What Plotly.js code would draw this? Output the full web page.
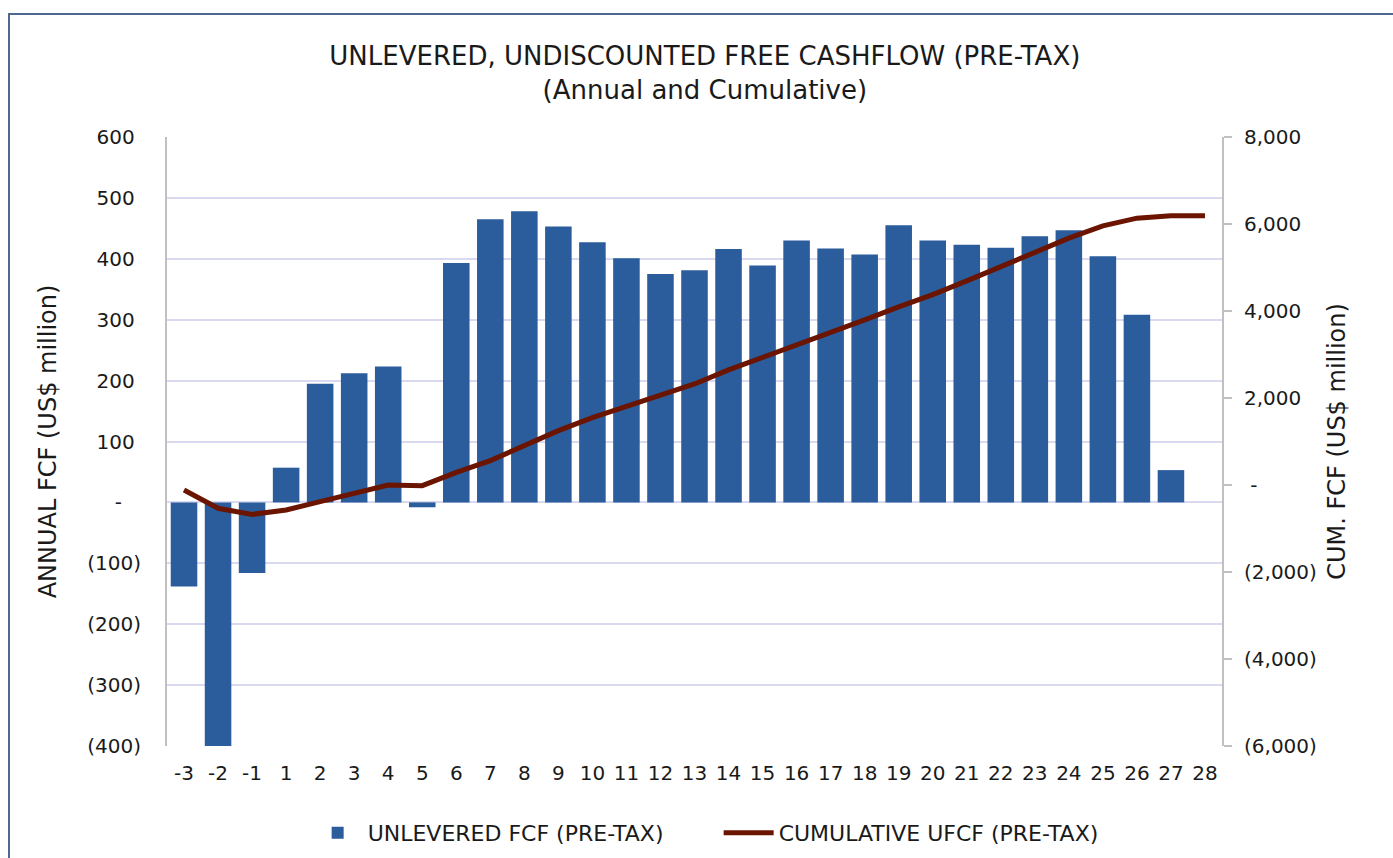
<!DOCTYPE html>
<html>
<head>
<meta charset="utf-8">
<script src="https://cdn.plot.ly/plotly-3.0.1.min.js"></script>
<style>
  html, body { margin: 0; padding: 0; background: #fff; overflow: hidden; }
  #chart { position: absolute; left: 0; top: 0; width: 1393px; height: 858px; }
  #frame { position: absolute; left: 8px; top: 13px; width: 1400px; height: 900px;
           border: 2px solid #4f6890; pointer-events: none; box-sizing: border-box; }
</style>
</head>
<body>
<div id="chart"></div>
<div id="frame"></div>
<script>
// Category labels (project years)
const years = ['-3','-2','-1','1','2','3','4','5','6','7','8','9','10','11','12','13','14',
               '15','16','17','18','19','20','21','22','23','24','25','26','27','28'];

// Annual unlevered FCF (pre-tax), US$ million (left axis)
const annualFCF = [-138,-402,-116,57,195,212,223,-8,393,465,478,453,427,401,375,381,416,
                   389,430,417,407,455,430,423,418,437,447,404,308,53,null];

// Cumulative UFCF (pre-tax), US$ million (right axis)
const cumulativeUFCF = [-115,-536,-675,-575,-383,-177,0,-15,290,560,905,1250,1550,1810,2070,
                        2323,2645,2928,3213,3503,3795,4094,4377,4692,5014,5329,5674,5957,
                        6134,6187,6190];

// Axis tick labels
const leftTickVals = [600,500,400,300,200,100,0,-100,-200,-300,-400];
const leftTickText = ['600\u00a0','500\u00a0','400\u00a0','300\u00a0','200\u00a0','100\u00a0',
                      '-\u00a0\u00a0\u00a0','(100)','(200)','(300)','(400)'];
const rightTickVals = [8000,6000,4000,2000,0,-2000,-4000,-6000];
const rightTickText = ['8,000','6,000','4,000','2,000','\u00a0-','(2,000)','(4,000)','(6,000)'];

const FONT = 'DejaVu Sans, sans-serif';
const TXT = '#1a1a1a';

const traces = [
  {
    type: 'bar',
    x: years,
    y: annualFCF,
    name: 'UNLEVERED FCF (PRE-TAX)',
    marker: { color: '#2b5c9b', line: { width: 0 } },
    yaxis: 'y',
    hoverinfo: 'x+y'
  },
  {
    type: 'scatter',
    mode: 'lines',
    x: years,
    y: cumulativeUFCF,
    name: 'CUMULATIVE UFCF (PRE-TAX)',
    line: { color: '#6b1400', width: 5 },
    yaxis: 'y2',
    hoverinfo: 'x+y'
  }
];

const layout = {
  width: 1393,
  height: 858,
  paper_bgcolor: '#ffffff',
  plot_bgcolor: '#ffffff',
  margin: { l: 167, r: 171, t: 137, b: 112 },
  font: { family: FONT, color: TXT, size: 20 },
  title: {
    text: 'UNLEVERED, UNDISCOUNTED FREE CASHFLOW (PRE-TAX)<br>(Annual and Cumulative)',
    font: { family: FONT, size: 26, color: TXT },
    xref: 'container', x: 0.506, xanchor: 'center',
    yref: 'container', y: 1 - 65/858, yanchor: 'top'
  },
  bargap: 0.22,
  showlegend: true,
  legend: {
    orientation: 'h',
    xref: 'container', x: 0.5159, xanchor: 'center',
    yref: 'container', y: 1 - 812/858, yanchor: 'top',
    font: { family: FONT, size: 22, color: TXT },
    traceorder: 'normal',
    itemwidth: 50,
    entrywidth: 346,
    entrywidthmode: 'pixels'
  },
  xaxis: {
    type: 'category',
    showgrid: false,
    showline: false,
    zeroline: false,
    ticks: '',
    tickfont: { family: FONT, size: 20, color: TXT },
    ticklabelstandoff: 13
  },
  yaxis: {
    range: [-400, 600],
    tickvals: leftTickVals,
    ticktext: leftTickText,
    showgrid: true,
    gridcolor: '#d9d9f0',
    gridwidth: 2,
    zeroline: false,
    showline: true,
    linecolor: '#c0c0c0',
    linewidth: 2,
    ticks: '',
    tickfont: { family: FONT, size: 20, color: TXT },
    ticklabelstandoff: 20,
    title: { text: 'ANNUAL FCF (US$ million)', font: { family: FONT, size: 24, color: TXT }, standoff: 24 },
    fixedrange: true
  },
  yaxis2: {
    overlaying: 'y',
    side: 'right',
    range: [-6000, 8000],
    tickvals: rightTickVals,
    ticktext: rightTickText,
    showgrid: false,
    zeroline: false,
    showline: true,
    linecolor: '#c0c0c0',
    linewidth: 2,
    ticks: 'outside',
    ticklen: 8,
    tickwidth: 2,
    tickcolor: '#c0c0c0',
    tickfont: { family: FONT, size: 20, color: TXT },
    ticklabelstandoff: 8,
    title: { text: 'CUM. FCF (US$ million)', font: { family: FONT, size: 24, color: TXT }, standoff: 12 },
    fixedrange: true
  }
};

Plotly.newPlot('chart', traces, layout, { displayModeBar: false, staticPlot: true });
</script>
</body>
</html>
